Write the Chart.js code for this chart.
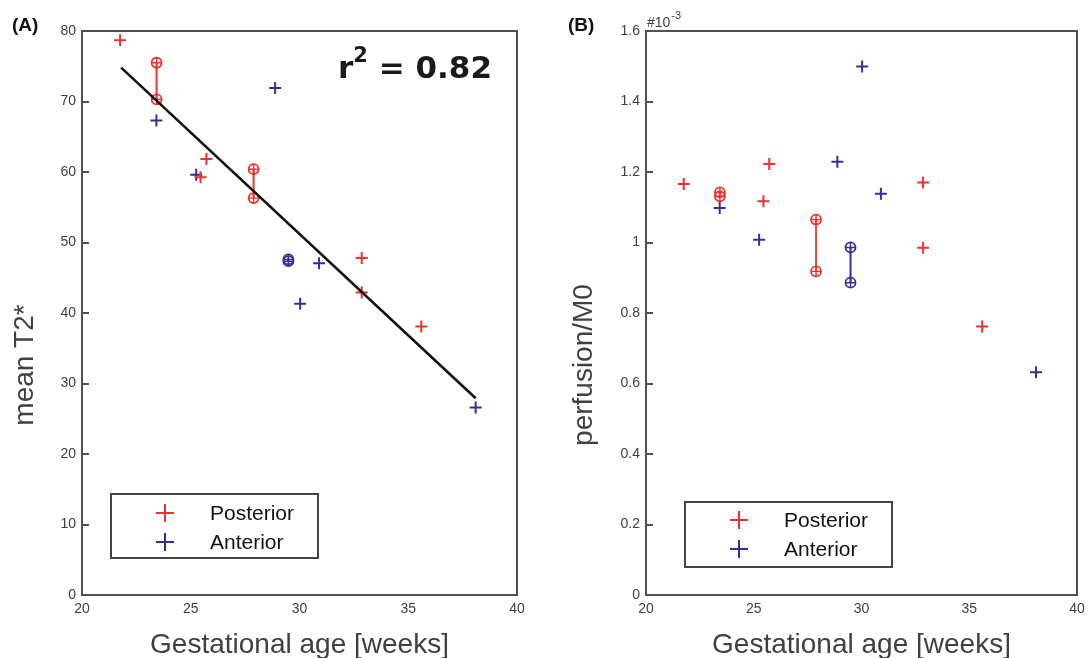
<!DOCTYPE html>
<html>
<head>
<meta charset="utf-8">
<title>T2* and perfusion vs gestational age</title>
<script src="https://cdn.jsdelivr.net/npm/chart.js@4.4.1/dist/chart.umd.min.js"></script>
<style>
    html, body { margin: 0; padding: 0; background: #fff; overflow: hidden; }
    #wrap { position: relative; width: 1088px; height: 658px; overflow: hidden; }
    .panel { position: absolute; top: 0; height: 658px; }
    #panelA { left: 0; width: 544px; }
    #panelB { left: 544px; width: 560px; }
</style>
</head>
<body>
<div id="wrap">
    <div class="panel" id="panelA"><canvas id="chartA"></canvas></div>
    <div class="panel" id="panelB"><canvas id="chartB"></canvas></div>
</div>
<script>
// Single measurements (weeks), posterior / anterior placenta
const weeksPost = [21.75, 25.45, 25.72, 32.86, 32.86, 35.6];
const weeksAnt = [23.42, 25.25, 28.88, 30.03, 30.9, 38.1];

// Repeated measurements (two scans, same week)
const pairWeeksPost = [23.43, 27.89];
const pairWeeksAnt = [29.49];

// (A) mean T2*
const t2Post = [78.7, 59.25, 61.85, 47.8, 42.9, 38.1];
const t2Ant = [67.3, 59.6, 71.9, 41.3, 47.07, 26.6];
const t2PairHighPost = [75.5, 60.4];
const t2PairLowPost = [70.3, 56.3];
const t2PairHighAnt = [47.6];
const t2PairLowAnt = [47.35];
const fitWeeks = [21.8, 38.1];
const fitT2 = [74.8, 27.9];

// (B) perfusion/M0, in units of 1e-3
const perfPost = [1.166, 1.117, 1.223, 1.17, 0.985, 0.762];
const perfAnt = [1.098, 1.008, 1.229, 1.499, 1.138, 0.632];
const perfPairHighPost = [1.142, 1.065];
const perfPairLowPost = [1.131, 0.918];
const perfPairHighAnt = [0.986];
const perfPairLowAnt = [0.886];

const legendLabels = ['Posterior', 'Anterior'];

const RED = '#f0302c';
const BLUE = '#3a2d96';
const AXIS = '#505050';
const TEXT = '#404040';
const FONT = "'Liberation Sans', Arial, Helvetica, sans-serif";

function toPoints(xs, ys) {
    return xs.map((x, i) => ({ x: x, y: ys[i] }));
}

function plusSet(xs, ys, color) {
    return {
        data: toPoints(xs, ys),
        showLine: false,
        pointStyle: 'cross',
        pointRadius: 6,
        pointBorderWidth: 2,
        pointBorderColor: color,
        borderColor: color
    };
}

// circle markers joined by a vertical line, plus the crosses inside them
function pairSets(xs, hi, lo, color, lineWidth) {
    const sets = [];
    xs.forEach((x, i) => {
        sets.push({
            data: [{ x: x, y: hi[i] }, { x: x, y: lo[i] }],
            showLine: true,
            borderColor: color,
            borderWidth: lineWidth,
            pointStyle: 'circle',
            pointRadius: 5,
            pointBorderWidth: 1.8,
            pointBorderColor: color,
            pointBackgroundColor: 'rgba(0,0,0,0)'
        });
    });
    sets.push({
        data: toPoints(xs, hi).concat(toPoints(xs, lo)),
        showLine: false,
        pointStyle: 'cross',
        pointRadius: 5,
        pointBorderWidth: 1.4,
        pointBorderColor: color
    });
    return sets;
}

// frame, inward ticks, axis titles, legend box and the other labels
const decor = {
    id: 'decor',
    afterDraw(chart, args, o) {
        const { ctx, chartArea: a, scales } = chart;
        ctx.save();

        ctx.strokeStyle = AXIS;
        ctx.lineWidth = 2;
        scales.y.ticks.forEach(t => {
            const py = Math.round(scales.y.getPixelForValue(t.value));
            ctx.beginPath();
            ctx.moveTo(a.left, py);
            ctx.lineTo(a.left + 7, py);
            ctx.stroke();
        });
        ctx.strokeRect(a.left, a.top, a.right - a.left, a.bottom - a.top);

        // axis titles
        ctx.fillStyle = TEXT;
        ctx.font = '28px ' + FONT;
        ctx.textAlign = 'center';
        ctx.textBaseline = 'alphabetic';
        ctx.fillText(o.xTitle, (a.left + a.right) / 2, 653);
        ctx.save();
        ctx.translate(o.yTitleX, 365);
        ctx.rotate(-Math.PI / 2);
        ctx.fillText(o.yTitle, 0, 0);
        ctx.restore();

        // panel letter
        ctx.fillStyle = '#111';
        ctx.font = 'bold 19px ' + FONT;
        ctx.textAlign = 'left';
        ctx.fillText(o.letter, o.letterX, 31);

        // legend
        const L = o.legend;
        ctx.strokeStyle = '#444';
        ctx.lineWidth = 2;
        ctx.strokeRect(L.x, L.y, L.w, L.h);
        ctx.font = '21px ' + FONT;
        ctx.textBaseline = 'middle';
        [RED, BLUE].forEach((c, i) => {
            const my = L.rows[i];
            ctx.strokeStyle = c;
            ctx.beginPath();
            ctx.moveTo(L.markX - 9, my);
            ctx.lineTo(L.markX + 9, my);
            ctx.moveTo(L.markX, my - 9);
            ctx.lineTo(L.markX, my + 9);
            ctx.stroke();
            ctx.fillStyle = '#111';
            ctx.fillText(legendLabels[i], L.textX, my + 1);
        });

        if (o.extra) o.extra(ctx);
        ctx.restore();
    }
};

function baseScales(yMin, yMax, yStep, yWidth, yFormat) {
    const tickFont = { family: FONT, size: 14 };
    return {
        x: {
            type: 'linear', min: 20, max: 40,
            ticks: { stepSize: 5, padding: 6, maxRotation: 0, font: tickFont, color: TEXT },
            grid: { display: false, drawTicks: false },
            border: { display: false },
            afterFit: s => { s.height = 63; }
        },
        y: {
            type: 'linear', min: yMin, max: yMax,
            ticks: { stepSize: yStep, padding: 6, font: tickFont, color: TEXT, callback: yFormat },
            grid: { display: false, drawTicks: false },
            border: { display: false },
            afterFit: s => { s.width = yWidth; }
        }
    };
}

const commonPlugins = { legend: { display: false }, tooltip: { enabled: false } };

// (A) mean T2*
new Chart(document.getElementById('chartA'), {
    type: 'scatter',
    data: {
        datasets: [
            {
                data: toPoints(fitWeeks, fitT2),
                showLine: true, borderColor: '#111', borderWidth: 2.6, pointRadius: 0
            },
            plusSet(weeksPost, t2Post, RED),
            plusSet(weeksAnt, t2Ant, BLUE),
            ...pairSets(pairWeeksPost, t2PairHighPost, t2PairLowPost, RED, 2),
            ...pairSets(pairWeeksAnt, t2PairHighAnt, t2PairLowAnt, BLUE, 2)
        ]
    },
    options: {
        responsive: true,
        maintainAspectRatio: false,
        animation: false,
        layout: { padding: { top: 31, right: 27, left: 0, bottom: 0 } },
        scales: baseScales(0, 80, 10, 82, v => String(v)),
        plugins: {
            ...commonPlugins,
            decor: {
                xTitle: 'Gestational age [weeks]',
                yTitle: 'mean T2*',
                yTitleX: 33,
                letter: '(A)',
                letterX: 12,
                legend: { x: 111, y: 494, w: 207, h: 64, markX: 165, textX: 210, rows: [513, 542] },
                extra(ctx) {
                    ctx.fillStyle = '#1a1a1a';
                    ctx.textAlign = 'left';
                    ctx.textBaseline = 'alphabetic';
                    let x = 338;
                    ctx.font = "bold 31px 'DejaVu Sans', sans-serif";
                    ctx.fillText('r', x, 78);
                    x += ctx.measureText('r').width;
                    ctx.font = "bold 21px 'DejaVu Sans', sans-serif";
                    ctx.fillText('2', x, 62);
                    x += ctx.measureText('2').width;
                    ctx.font = "bold 31px 'DejaVu Sans', sans-serif";
                    ctx.fillText(' = 0.82', x, 78);
                }
            }
        }
    },
    plugins: [decor]
});

// (B) perfusion/M0
new Chart(document.getElementById('chartB'), {
    type: 'scatter',
    data: {
        datasets: [
            plusSet(weeksPost, perfPost, RED),
            plusSet(weeksAnt, perfAnt, BLUE),
            ...pairSets(pairWeeksPost, perfPairHighPost, perfPairLowPost, RED, 1),
            ...pairSets(pairWeeksAnt, perfPairHighAnt, perfPairLowAnt, BLUE, 2)
        ]
    },
    options: {
        responsive: true,
        maintainAspectRatio: false,
        animation: false,
        layout: { padding: { top: 31, right: 27, left: 0, bottom: 0 } },
        scales: baseScales(0, 1.6, 0.2, 102, v => String(+v.toFixed(1))),
        plugins: {
            ...commonPlugins,
            decor: {
                xTitle: 'Gestational age [weeks]',
                yTitle: 'perfusion/M0',
                yTitleX: 48,
                letter: '(B)',
                letterX: 24,
                legend: { x: 141, y: 502, w: 207, h: 65, markX: 195, textX: 240, rows: [520, 549] },
                extra(ctx) {
                    ctx.fillStyle = TEXT;
                    ctx.textAlign = 'left';
                    ctx.textBaseline = 'alphabetic';
                    ctx.font = '14px ' + FONT;
                    ctx.fillText('#10', 103, 27);
                    const w = ctx.measureText('#10').width;
                    ctx.font = '11px ' + FONT;
                    ctx.fillText('-3', 103 + w + 1, 19);
                }
            }
        }
    },
    plugins: [decor]
});
</script>
</body>
</html>
